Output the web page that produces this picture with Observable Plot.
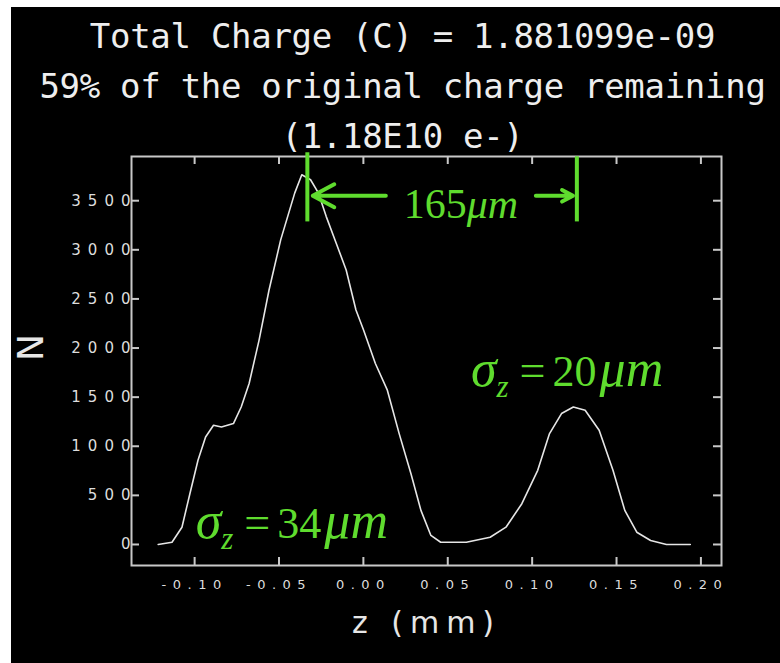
<!DOCTYPE html>
<html>
<head>
<meta charset="utf-8">
<script src="https://cdn.jsdelivr.net/npm/d3@7"></script>
<script src="https://cdn.jsdelivr.net/npm/@observablehq/plot@0.6"></script>
<style>
  html, body { margin: 0; padding: 0; background: #fff; width: 780px; height: 663px; overflow: hidden; }
  #wrap { position: absolute; left: 11px; top: 7px; width: 769px; height: 656px; background: #000; overflow: hidden; }
  #title { position: absolute; left: 14px; top: 0; width: 755px; padding-top: 4px; text-align: center;
           font-family: "DejaVu Sans Mono", monospace; font-size: 34px; line-height: 50px; color: #eee;
           white-space: nowrap; letter-spacing: -0.3px; }
  #chart { position: absolute; left: 0; top: 141px; }
  g[aria-label="y-axis tick label"] text { letter-spacing: 7px; }
  g[aria-label="x-axis tick label"] text { letter-spacing: 6.5px; }
</style>
</head>
<body>
<div id="wrap">
  <div id="title"></div>
  <div id="chart"></div>
</div>
<script>
// ---- data ----
const titleLines = ["Total Charge (C) = 1.881099e-09", "59% of the original charge remaining", "(1.18E10 e-)"];
const zValues = [-0.1216,-0.1134,-0.1075,-0.1028,-0.098,-0.0935,-0.0888,-0.0841,-0.077,-0.0724,
  -0.0677,-0.0618,-0.0559,-0.049,-0.0407,-0.0365,-0.0313,-0.0266,-0.022,-0.0161,
  -0.0102,-0.0044,0.0001,0.0071,0.0142,0.0212,0.0282,0.0341,0.04,0.0458,
  0.061,0.0751,0.0845,0.0939,0.1033,0.1103,0.1174,0.1244,0.1314,0.1397,
  0.1479,0.1549,0.162,0.1702,0.1796,0.1937];
const nValues = [0,23,176,517,857,1095,1214,1196,1231,1400,
  1639,2081,2591,3101,3577,3764,3713,3577,3338,3067,
  2795,2387,2183,1843,1571,1129,721,347,92,23,
  23,74,176,415,755,1129,1333,1400,1367,1163,
  755,347,125,41,0,0];
const xTicks = [-0.10, -0.05, 0.00, 0.05, 0.10, 0.15, 0.20];
const yTicks = [0, 500, 1000, 1500, 2000, 2500, 3000, 3500];
const xLabel = "z (mm)";
const yLabel = "N";
// annotations
const labelTexts = ["165μm", "σz = 20μm", "σz = 34μm"];
const labelZ = [0.0239, 0.0637, -0.0994];
const labelN = [3325, 1612, 61];
const markerZ = [-0.0332, 0.1265];
const markerTopN = [3988, 3947];
const markerBottomN = [3284, 3284];
const arrowFromZ = [0.0133, 0.1022];
const arrowToZ = [-0.0300, 0.1242];
const arrowN = [3550, 3550];

// ---- build ----
d3.select("#title").selectAll("div").data(titleLines).join("div").text(d => d);

const curve = zValues.map((z, i) => ({z, n: nValues[i]}));
const labels = labelTexts.map((t, i) => ({t, z: labelZ[i], n: labelN[i]}));
const markers = markerZ.map((z, i) => ({z, n1: markerBottomN[i], n2: markerTopN[i]}));
const arrows = arrowFromZ.map((z, i) => ({z1: z, z2: arrowToZ[i], n: arrowN[i]}));

const green = "#5fdc2e";
const fmtX = d => d3.format(".2f")(d).replace("−", "-");
const fmtY = d => String(d);

const W = 769, H = 515;
const mL = 120, mR = 59, mT = 8, mB = 98;
const fw = W - mL - mR, fh = H - mT - mB, tl = 8;

const svg = Plot.plot({
  width: W, height: H,
  marginTop: mT, marginBottom: mB, marginLeft: mL, marginRight: mR,
  x: {domain: [-0.1374, 0.2122]},
  y: {domain: [-214, 3950]},
  style: {background: "transparent", color: "#ddd", fontFamily: "DejaVu Sans", overflow: "visible"},
  marks: [
    Plot.frame({stroke: "#c8c8c8", strokeWidth: 2}),
    Plot.tickY(yTicks, {y: d => d, stroke: "#c8c8c8", strokeWidth: 2, insetRight: fw - tl}),
    Plot.tickY(yTicks, {y: d => d, stroke: "#c8c8c8", strokeWidth: 2, insetLeft: fw - tl}),
    Plot.tickX(xTicks, {x: d => d, stroke: "#c8c8c8", strokeWidth: 2, insetTop: fh - tl}),
    Plot.tickX(xTicks, {x: d => d, stroke: "#c8c8c8", strokeWidth: 2, insetBottom: fh - tl}),
    Plot.axisY({ticks: yTicks, tickSize: 0, tickPadding: 0, dx: 6, fontSize: 15, fill: "#ddd", tickFormat: fmtY, label: null}),
    Plot.axisX({ticks: xTicks, tickSize: 0, tickPadding: 14, fontSize: 13, fill: "#ddd", tickFormat: fmtX, label: null}),
    Plot.text([yLabel], {frameAnchor: "left", dx: -100, rotate: -90, fontSize: 36, fill: "#e6e6e6", fontFamily: "DejaVu Sans"}),
    Plot.text([xLabel], {frameAnchor: "bottom", dy: 67, fontSize: 30, fill: "#e6e6e6", fontFamily: "DejaVu Sans"}),
    Plot.line(curve, {x: "z", y: "n", stroke: "#e6e6e6", strokeWidth: 1.6}),
    Plot.ruleX(markers, {x: "z", y1: "n1", y2: "n2", stroke: green, strokeWidth: 4}),
    Plot.arrow(arrows, {x1: "z1", x2: "z2", y1: "n", y2: "n", stroke: green, strokeWidth: 4, headLength: 22, headAngle: 56}),
    Plot.text(labels, {x: "z", y: "n", text: "t", textAnchor: "start", lineAnchor: "bottom", fontSize: 44,
      fontFamily: "Liberation Serif", fill: green})
  ]
});

d3.select("#chart").node().appendChild(svg);

// style specific texts by content
d3.select(svg).selectAll("text").each(function() {
  const t = this.textContent;
  const el = d3.select(this);
  if (t === xLabel) {
    el.style("letter-spacing", "7px");
    return;
  }
  if (!labelTexts.includes(t)) return;
  el.text(null);
  const m = t.match(/^σz = (\d+)μm$/);
  if (m) {
    el.append("tspan").attr("font-style", "italic").attr("font-size", "52px").text("σ");
    el.append("tspan").attr("font-style", "italic").attr("font-size", "31px").attr("dy", 11).text("z");
    el.append("tspan").attr("dy", -11).attr("dx", 11).attr("font-size", "46px").text("=");
    el.append("tspan").attr("dx", 7).text(m[1]);
    el.append("tspan").attr("dx", 3).attr("font-style", "italic").attr("font-size", "52px").text("μm");
  } else {
    const m2 = t.match(/^(\d+)(μm)$/);
    el.attr("font-size", "42px");
    el.append("tspan").text(m2[1]);
    el.append("tspan").attr("font-style", "italic").text(m2[2]);
  }
});
</script>
</body>
</html>
